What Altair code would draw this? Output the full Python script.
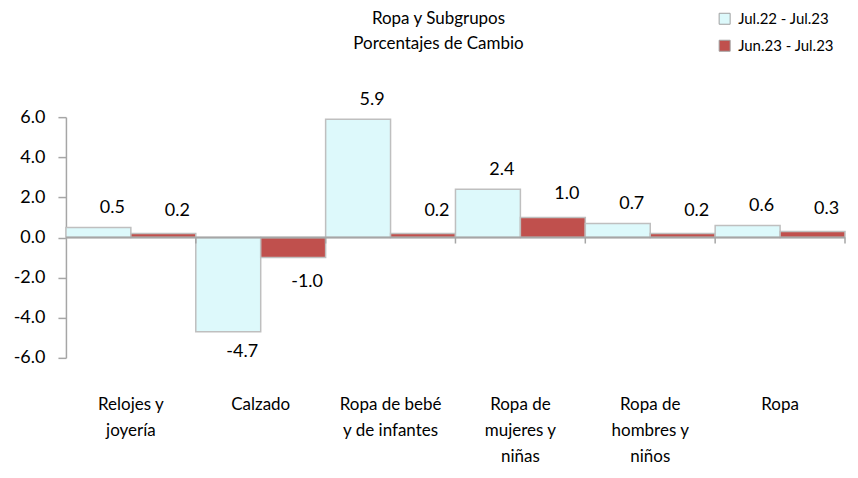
import altair as alt
import pandas as pd

categories = ["Relojes y|joyería", "Calzado", "Ropa de bebé|y de infantes",
              "Ropa de|mujeres y|niñas", "Ropa de|hombres y|niños", "Ropa"]
series = ["Jul.22 - Jul.23", "Jun.23 - Jul.23"]
anual = [0.5, -4.7, 5.9, 2.4, 0.7, 0.6]
mensual = [0.2, -1.0, 0.2, 1.0, 0.2, 0.3]
title_lines = ["Ropa y Subgrupos", "Porcentajes de Cambio"]

rows = []
for c, a, m in zip(categories, anual, mensual):
    rows.append({"cat": c, "serie": series[0], "v": a})
    rows.append({"cat": c, "serie": series[1], "v": m})
df = pd.DataFrame(rows)
bounds = pd.DataFrame({"cat": categories[1:]})
last = pd.DataFrame({"cat": categories[-1:]})

FONT = "Lato"
GRAY = "#A6A6A6"
MINUS = "\u2212"

xenc = alt.X("cat:N", sort=categories,
             scale=alt.Scale(paddingInner=0, paddingOuter=0),
             axis=alt.Axis(title=None, labelAngle=0, domain=False, ticks=False,
                           labelExpr="split(datum.label, '|')",
                           labelFont=FONT, labelFontSize=17, labelColor="black",
                           labelPadding=47, labelLineHeight=26, labelBaseline="middle"))
yenc = alt.Y("v:Q", scale=alt.Scale(domain=[-6, 6], nice=False),
             axis=alt.Axis(title=None, values=[-6, -4, -2, 0, 2, 4, 6], format=".1f",
                           labelExpr=f"replace(datum.label, '{MINUS}', '-')",
                           grid=False, domainColor=GRAY, domainWidth=1.5,
                           tickColor=GRAY, tickSize=8, tickWidth=1.5, labelPadding=13,
                           labelFont=FONT, labelFontSize=18, labelColor="black"))

color = alt.Color("serie:N", sort=series,
                  scale=alt.Scale(domain=series, range=["#DDF9FB", "#C0504D"]),
                  legend=alt.Legend(title=None, orient="none", legendX=652, legendY=-106,
                                    symbolType="square", symbolSize=121,
                                    symbolStrokeColor="#A0A0A0", symbolStrokeWidth=1,
                                    labelFont=FONT, labelFontSize=15, labelColor="black",
                                    labelOffset=6, rowPadding=11))

base = alt.Chart(df)
bars = base.mark_bar(stroke="#BFBFBF", strokeWidth=1.5).encode(
    x=xenc, y=yenc, color=color,
    xOffset=alt.XOffset("serie:N", sort=series,
                        scale=alt.Scale(paddingInner=0, paddingOuter=0)))


def label_layer(serie, positive, dy):
    cond = "datum.v >= 0" if positive else "datum.v < 0"
    return base.transform_filter(f"datum.serie == '{serie}' && {cond}").transform_calculate(
        lbl=f"replace(format(datum.v, '.1f'), '{MINUS}', '-')"
    ).mark_text(font=FONT, fontSize=18, color="black", baseline="middle",
                dx=14, dy=dy).encode(
        x=alt.X("cat:N", sort=categories),
        y=alt.Y("v:Q"),
        xOffset=alt.XOffset("serie:N", sort=series),
        text="lbl:N")


labels = [label_layer(series[0], True, -19), label_layer(series[0], False, 20),
          label_layer(series[1], True, -23), label_layer(series[1], False, 24)]

zero = alt.Chart(pd.DataFrame({"v": [0]})).mark_rule(color=GRAY, strokeWidth=2).encode(
    y=alt.Y("v:Q"), x=alt.value(0), x2=alt.value(780))


def tick_layer(data, band_pos):
    return alt.Chart(data).transform_calculate(v="0", v2="-0.3").mark_rule(
        color=GRAY, strokeWidth=1.5).encode(
        x=alt.X("cat:N", sort=categories, bandPosition=band_pos),
        y=alt.Y("v:Q"), y2="v2:Q")


def title_layer(i, ypix):
    return alt.Chart(pd.DataFrame({"t": [title_lines[i]]})).mark_text(
        font=FONT, fontSize=17, color="black", baseline="middle").encode(
        text="t:N", x=alt.value(373), y=alt.value(ypix))


chart = alt.layer(bars, zero, tick_layer(bounds, 0), tick_layer(last, 1), *labels,
                  title_layer(0, -98), title_layer(1, -73)).properties(
    width=780, height=241,
    autosize=alt.AutoSizeParams(type="none"),
    padding={"left": 58, "top": 109, "right": 5, "bottom": 110},
).configure_view(stroke=None).configure_scale(bandPaddingInner=0)

chart.save("out.html", embed_options={"renderer": "svg", "actions": False})
